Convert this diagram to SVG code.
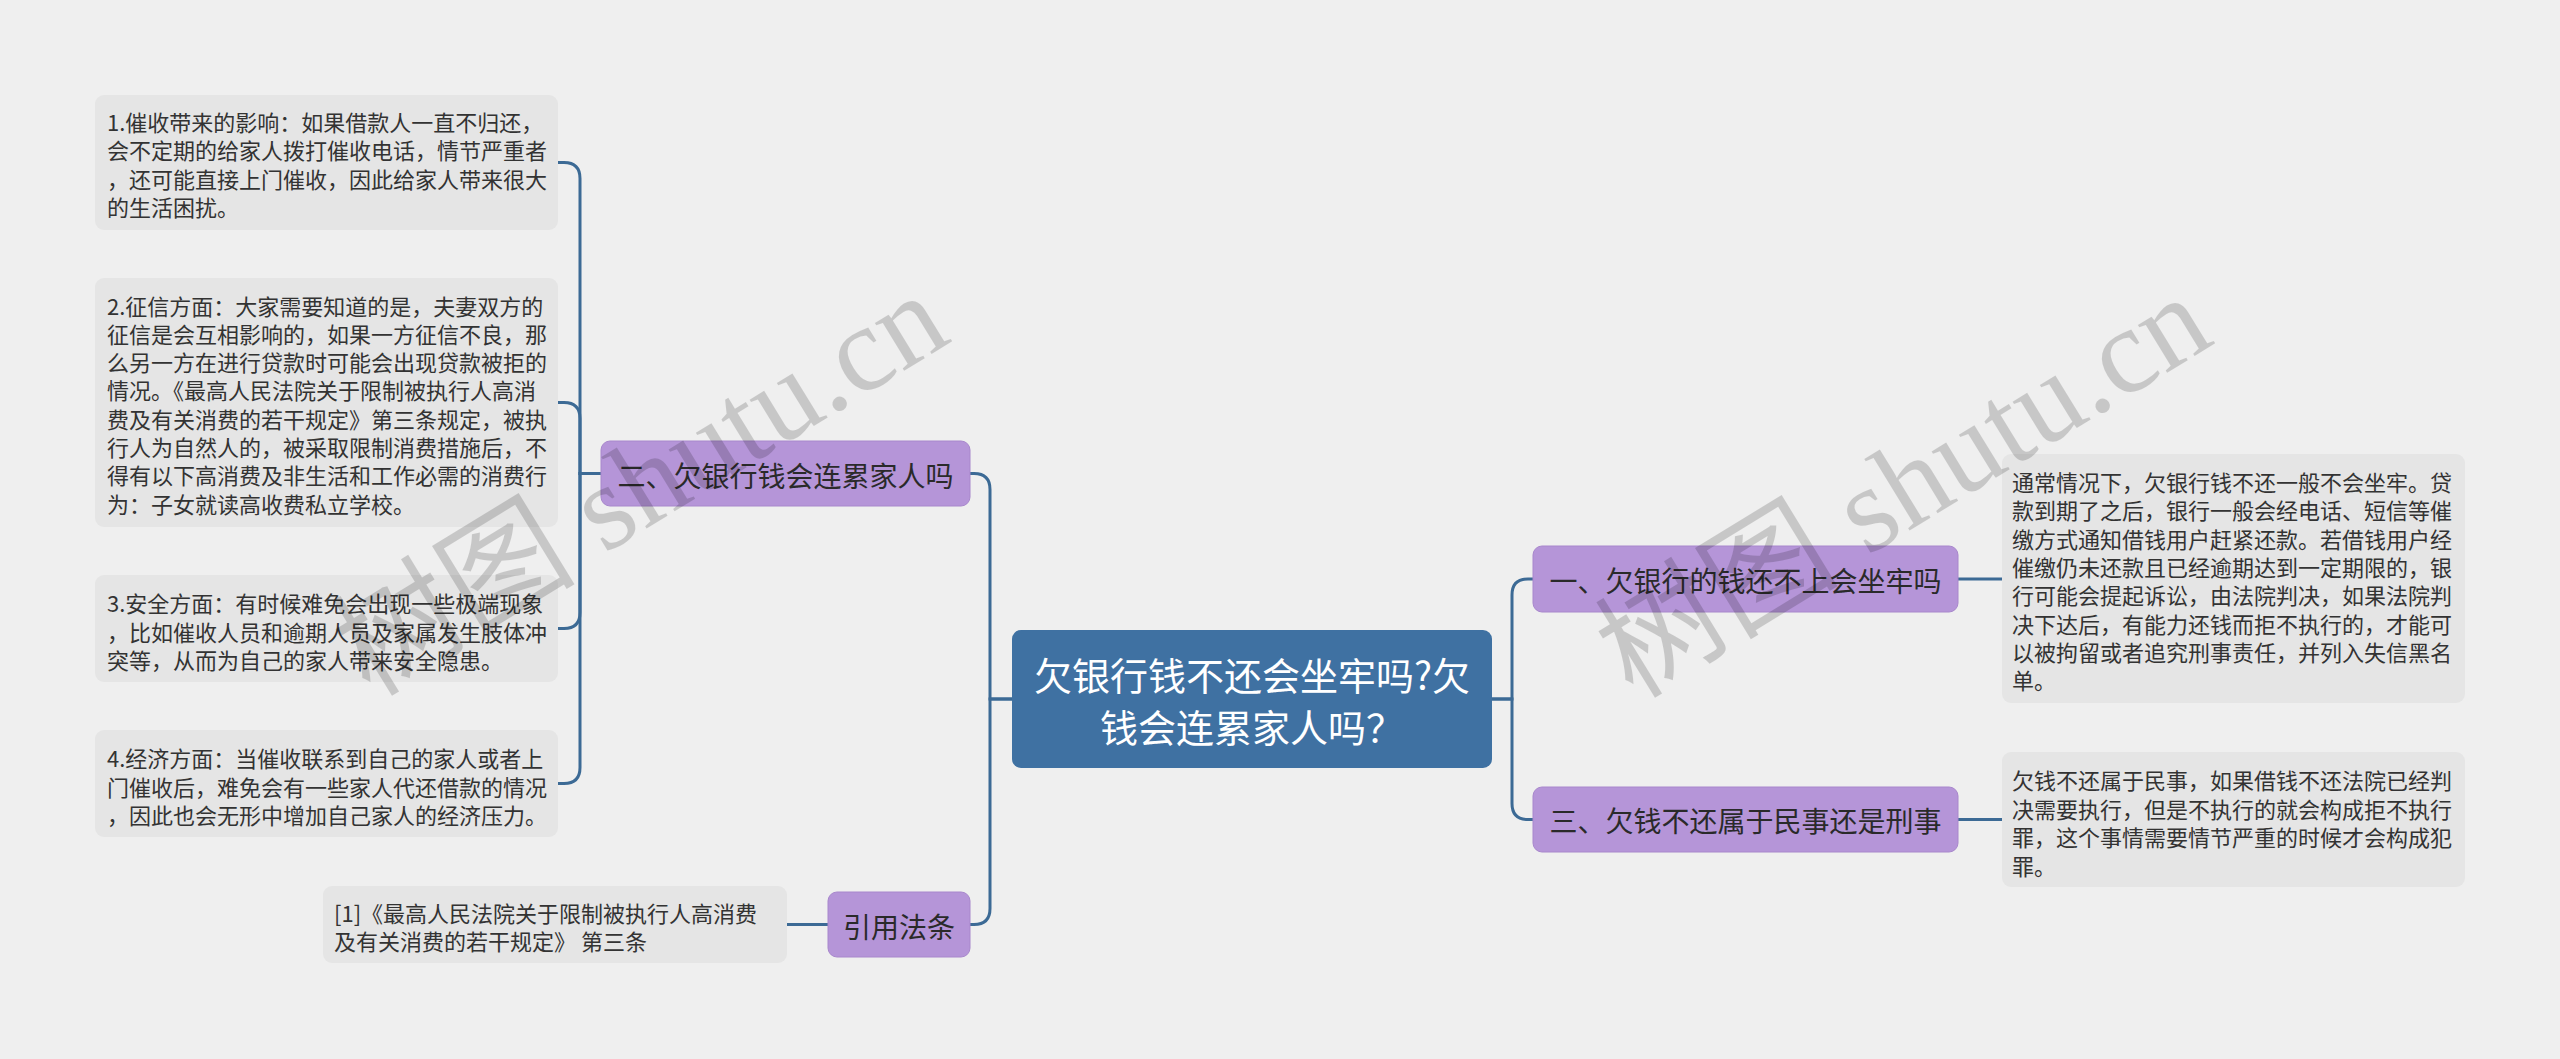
<svg xmlns="http://www.w3.org/2000/svg" width="2560" height="1059" viewBox="0 0 2560 1059">
<style>
.bg{fill:#efefef}
.leaf{fill:#e5e5e5}
.sub{fill:#b595d8;stroke:#a887cc;stroke-width:1}
.root{fill:#3f71a2}
.lt{font-family:"Noto Sans CJK SC","Noto Sans",sans-serif;font-size:22px;fill:#333;dominant-baseline:central}
.st{font-family:"Noto Sans CJK SC","Noto Sans",sans-serif;font-size:28px;fill:#2a2a2a;text-anchor:middle;dominant-baseline:central}
.rt{font-family:"Noto Sans CJK SC","Noto Sans",sans-serif;font-size:38px;fill:#ffffff;text-anchor:middle;dominant-baseline:central}
.conn path{fill:none;stroke:#3c6a95;stroke-width:3}
.wm{font-family:"Liberation Serif","Noto Sans CJK SC",serif;font-size:122px;fill:#000;opacity:0.16}
</style>
<rect class="bg" x="0" y="0" width="2560" height="1059"/>

<g id="connectors" class="conn">
<path d="M1492,699 H1512 V595 Q1512,579 1528,579 H1533"/>
<path d="M1492,699 H1512 V803.5 Q1512,819.5 1528,819.5 H1533"/>
<path d="M1958,579 H2002"/>
<path d="M1958,819.5 H2002"/>
<path d="M1012,699 H990 V489.5 Q990,473.5 974,473.5 H970"/>
<path d="M1012,699 H990 V908.5 Q990,924.5 974,924.5 H970"/>
<path d="M601,473.5 H580 V178.5 Q580,162.5 564,162.5 H558"/>
<path d="M601,473.5 H580 V418.5 Q580,402.5 564,402.5 H558"/>
<path d="M601,473.5 H580 V612.5 Q580,628.5 564,628.5 H558"/>
<path d="M601,473.5 H580 V767.5 Q580,783.5 564,783.5 H558"/>
<path d="M828,924.5 H787"/>
</g>

<g id="root">
<rect class="root" x="1012" y="630" width="480" height="138" rx="9"/>
<text class="rt" x="1252" y="673">欠银行钱不还会坐牢吗?欠</text>
<text class="rt" x="1252" y="725">钱会连累家人吗？</text>
</g>

<g id="n1">
<rect class="sub" x="1533" y="546" width="425" height="66" rx="9"/>
<text class="st" x="1745.5" y="580">一、欠银行的钱还不上会坐牢吗</text>
</g>

<g id="n3">
<rect class="sub" x="1533" y="787" width="425" height="65" rx="9"/>
<text class="st" x="1745.5" y="820">三、欠钱不还属于民事还是刑事</text>
</g>

<g id="n2">
<rect class="sub" x="601" y="441" width="369" height="65" rx="9"/>
<text class="st" x="785.5" y="474.5">二、欠银行钱会连累家人吗</text>
</g>

<g id="ncite">
<rect class="sub" x="828" y="892" width="142" height="65" rx="9"/>
<text class="st" x="899" y="925.5">引用法条</text>
</g>

<g id="r1">
<rect class="leaf" x="2002" y="454" width="463" height="249" rx="9"/>
<text class="lt" x="2012" y="481">通常情况下，欠银行钱不还一般不会坐牢。贷</text>
<text class="lt" x="2012" y="509.3">款到期了之后，银行一般会经电话、短信等催</text>
<text class="lt" x="2012" y="537.6">缴方式通知借钱用户赶紧还款。若借钱用户经</text>
<text class="lt" x="2012" y="565.9">催缴仍未还款且已经逾期达到一定期限的，银</text>
<text class="lt" x="2012" y="594.2">行可能会提起诉讼，由法院判决，如果法院判</text>
<text class="lt" x="2012" y="622.5">决下达后，有能力还钱而拒不执行的，才能可</text>
<text class="lt" x="2012" y="650.8">以被拘留或者追究刑事责任，并列入失信黑名</text>
<text class="lt" x="2012" y="679.1">单。</text>
</g>

<g id="r3">
<rect class="leaf" x="2002" y="752" width="463" height="135" rx="9"/>
<text class="lt" x="2012" y="779">欠钱不还属于民事，如果借钱不还法院已经判</text>
<text class="lt" x="2012" y="807.5">决需要执行，但是不执行的就会构成拒不执行</text>
<text class="lt" x="2012" y="836">罪，这个事情需要情节严重的时候才会构成犯</text>
<text class="lt" x="2012" y="864.5">罪。</text>
</g>

<g id="l1">
<rect class="leaf" x="95" y="95" width="463" height="135" rx="9"/>
<text class="lt" x="107" y="120.5">1.催收带来的影响：如果借款人一直不归还，</text>
<text class="lt" x="107" y="149">会不定期的给家人拨打催收电话，情节严重者</text>
<text class="lt" x="107" y="177.5">，还可能直接上门催收，因此给家人带来很大</text>
<text class="lt" x="107" y="206">的生活困扰。</text>
</g>

<g id="l2">
<rect class="leaf" x="95" y="278" width="463" height="249" rx="9"/>
<text class="lt" x="107" y="304.5">2.征信方面：大家需要知道的是，夫妻双方的</text>
<text class="lt" x="107" y="332.8">征信是会互相影响的，如果一方征信不良，那</text>
<text class="lt" x="107" y="361.1">么另一方在进行贷款时可能会出现贷款被拒的</text>
<text class="lt" x="107" y="389.4">情况。《最高人民法院关于限制被执行人高消</text>
<text class="lt" x="107" y="417.7">费及有关消费的若干规定》第三条规定，被执</text>
<text class="lt" x="107" y="446">行人为自然人的，被采取限制消费措施后，不</text>
<text class="lt" x="107" y="474.3">得有以下高消费及非生活和工作必需的消费行</text>
<text class="lt" x="107" y="502.6">为：子女就读高收费私立学校。</text>
</g>

<g id="l3">
<rect class="leaf" x="95" y="575" width="463" height="107" rx="9"/>
<text class="lt" x="107" y="602">3.安全方面：有时候难免会出现一些极端现象</text>
<text class="lt" x="107" y="630.5">，比如催收人员和逾期人员及家属发生肢体冲</text>
<text class="lt" x="107" y="659">突等，从而为自己的家人带来安全隐患。</text>
</g>

<g id="l4">
<rect class="leaf" x="95" y="730" width="463" height="107" rx="9"/>
<text class="lt" x="107" y="757">4.经济方面：当催收联系到自己的家人或者上</text>
<text class="lt" x="107" y="785.5">门催收后，难免会有一些家人代还借款的情况</text>
<text class="lt" x="107" y="814">，因此也会无形中增加自己家人的经济压力。</text>
</g>

<g id="cite">
<rect class="leaf" x="323" y="886" width="464" height="77" rx="9"/>
<text class="lt" x="334" y="911.5">[1]《最高人民法院关于限制被执行人高消费</text>
<text class="lt" x="334" y="940">及有关消费的若干规定》 第三条</text>
</g>

<g id="watermark">
<text class="wm" transform="translate(370,698) rotate(-31.5)">树图 shutu.cn</text>
<text class="wm" transform="translate(1633,700) rotate(-31.5)">树图 shutu.cn</text>
</g>
</svg>
